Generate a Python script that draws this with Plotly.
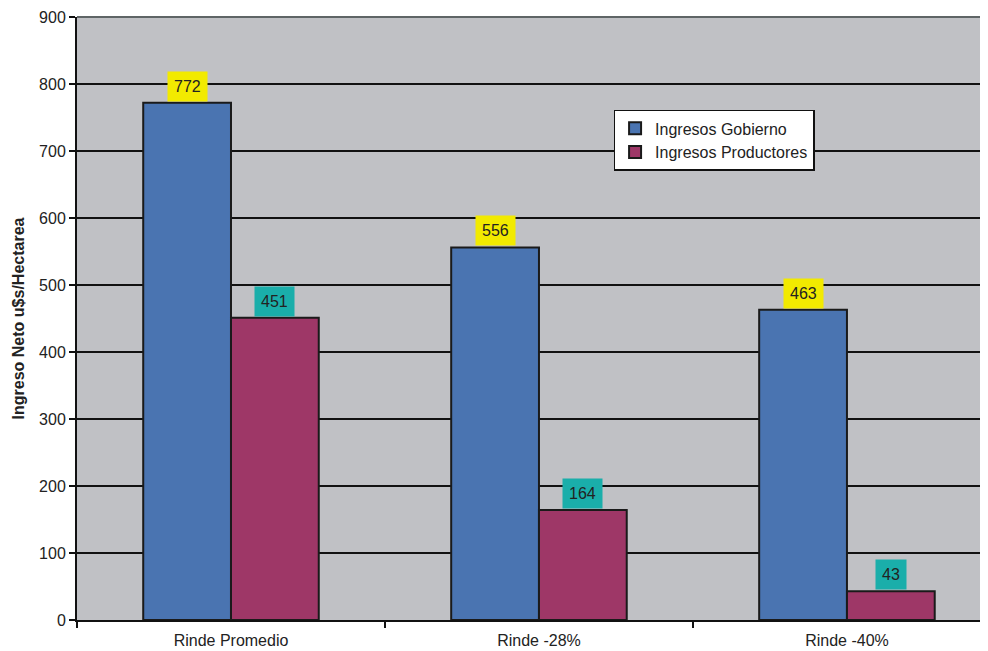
import plotly.graph_objects as go

categories = ["Rinde Promedio", "Rinde -28%", "Rinde -40%"]
gobierno = [772, 556, 463]
productores = [451, 164, 43]
series_names = ["Ingresos Gobierno", "Ingresos Productores"]
y_ticks = [0, 100, 200, 300, 400, 500, 600, 700, 800, 900]

BLUE = "#4a74b1"
MAGENTA = "#9e3767"
YELLOW = "#f2ea00"
TEAL = "#1aaeaa"
BG = "#c0c1c5"
FONT = "Liberation Sans, Arial, sans-serif"

fig = go.Figure()
fig.add_trace(go.Bar(x=categories, y=gobierno, name=series_names[0],
                     marker=dict(color=BLUE, line=dict(color="#1a1a1a", width=2))))
fig.add_trace(go.Bar(x=categories, y=productores, name=series_names[1],
                     marker=dict(color=MAGENTA, line=dict(color="#1a1a1a", width=2))))

bargap = 0.43
half = (1 - bargap) / 4
for i, (g, p) in enumerate(zip(gobierno, productores)):
    fig.add_annotation(x=i - half, y=g, xref="x", yref="y", text=str(g),
                       showarrow=False, yanchor="bottom", yshift=1,
                       bgcolor=YELLOW, borderpad=6,
                       font=dict(family=FONT, size=16, color="#222"))
    fig.add_annotation(x=i + half, y=p, xref="x", yref="y", text=str(p),
                       showarrow=False, yanchor="bottom", yshift=1,
                       bgcolor=TEAL, borderpad=6,
                       font=dict(family=FONT, size=16, color="#222"))

# gray top border of plot area
fig.add_shape(type="line", xref="paper", yref="paper", x0=0, x1=1, y0=1, y1=1,
              line=dict(color="#5f6566", width=2), layer="above")

fig.update_layout(
    width=980, height=643,
    margin=dict(l=69, r=0, t=9, b=31),
    paper_bgcolor="white", plot_bgcolor=BG,
    barmode="group", bargap=bargap, bargroupgap=0,
    font=dict(family=FONT, size=16, color="#222"),
    showlegend=True,
    legend=dict(x=0.589, y=0.846, xanchor="left", yanchor="top",
                bgcolor="white", bordercolor="#111", borderwidth=1.5,
                font=dict(family=FONT, size=16, color="#222"),
                itemwidth=30, tracegroupgap=0),
)
fig.update_xaxes(range=[-0.5, 2.458], showline=True, linecolor="#111", linewidth=2,
                 ticks="outside", tickson="boundaries", ticklen=6, tickcolor="#111",
                 tickwidth=2, showgrid=False, tickfont=dict(size=16),
                 ticklabelstandoff=5, automargin=False)
fig.update_yaxes(range=[0, 900], tickvals=y_ticks, showline=True, linecolor="#111",
                 linewidth=2, ticks="outside", ticklen=6, tickcolor="#111", tickwidth=2,
                 showgrid=True, gridcolor="#111", gridwidth=2, zeroline=False,
                 tickfont=dict(size=16), automargin=False,
                 title=dict(text="<b>Ingreso Neto u$s/Hectarea</b>", font=dict(size=16), standoff=10))

fig.write_html("out.html")
